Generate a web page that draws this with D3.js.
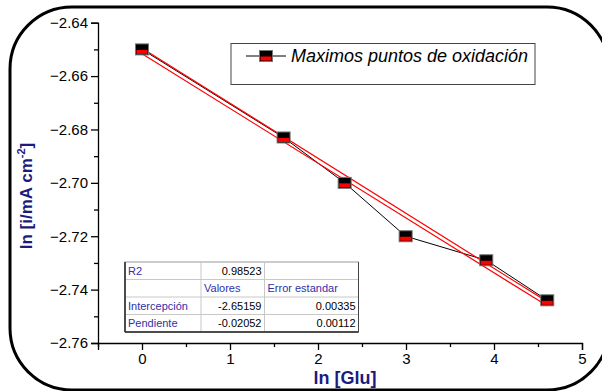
<!DOCTYPE html>
<html><head><meta charset="utf-8">
<script src="https://cdn.jsdelivr.net/npm/d3@7"></script>
<style>body{margin:0;background:#fff}svg{display:block}text{font-family:"Liberation Sans",Arial,sans-serif}</style>
</head><body><svg id="c" width="602" height="391"></svg>
<script>
const xVals = [0, 1.609, 2.303, 2.996, 3.912, 4.605];
const yVals = [-2.650, -2.683, -2.700, -2.720, -2.729, -2.744];
const xTicks = [0, 1, 2, 3, 4, 5];
const yTicks = [-2.76, -2.74, -2.72, -2.70, -2.68, -2.66, -2.64];
const fitIntercept = -2.65159, fitSlope = -0.02052;
const secondLine = [[0, -2.6496], [4.605, -2.7445]];
const legendLabel = "Maximos puntos de oxidación";
const tableRows = [
  ["R2", "0.98523", ""],
  ["", "Valores", "Error estandar"],
  ["Intercepción", "-2.65159", "0.00335"],
  ["Pendiente", "-0.02052", "0.00112"]
];

const svg = d3.select("#c");
const x = d3.scaleLinear().domain([-0.5, 5]).range([98, 582]);
const y = d3.scaleLinear().domain([-2.76, -2.64]).range([343, 22.7]);
const navy = "#1b1b7e", tblBlue = "#3030a8";

// frame
svg.append("rect").attr("x", 10).attr("y", 7).attr("width", 599).attr("height", 383)
  .attr("rx", 62).attr("ry", 62).attr("fill", "none").attr("stroke", "#000").attr("stroke-width", 3);

// axes
const yAxis = svg.append("g").attr("transform", "translate(98,0)")
  .call(d3.axisLeft(y).tickValues(yTicks).tickFormat(d3.format(".2f")).tickSizeOuter(0).tickSize(7));
const yMinor = svg.append("g").attr("transform", "translate(98,0)")
  .call(d3.axisLeft(y).tickValues(d3.range(-2.75, -2.64, 0.02)).tickFormat("").tickSizeOuter(0).tickSize(4));
yMinor.select(".domain").remove();
const xAxis = svg.append("g").attr("transform", "translate(0,343)")
  .call(d3.axisBottom(x).tickValues(xTicks).tickFormat(d3.format("d")).tickSizeOuter(0).tickSize(7));
const xMinor = svg.append("g").attr("transform", "translate(0,343)")
  .call(d3.axisBottom(x).tickValues([-0.5, 0.5, 1.5, 2.5, 3.5, 4.5]).tickFormat("").tickSizeOuter(0).tickSize(4));
xMinor.select(".domain").remove();
svg.selectAll(".domain, .tick line").attr("stroke", "#000").attr("stroke-width", 1.3);
yAxis.selectAll("text").attr("font-size", 15).attr("fill", "#000").attr("x", -10)
  .attr("font-family", "Liberation Sans, Arial, sans-serif");
xAxis.selectAll("text").attr("font-size", 15).attr("fill", "#000").attr("y", 10)
  .attr("font-family", "Liberation Sans, Arial, sans-serif");

// titles
svg.append("text").attr("x", 345).attr("y", 384).attr("text-anchor", "middle")
  .attr("font-size", 18).attr("font-weight", "bold").attr("fill", navy).text("ln [Glu]");
const yt = svg.append("text").attr("transform", "translate(32,196) rotate(-90)").attr("text-anchor", "middle")
  .attr("font-size", 17).attr("font-weight", "bold").attr("fill", navy);
yt.append("tspan").text("ln [i/mA cm");
yt.append("tspan").attr("dy", -7).attr("font-size", 11).text("-2");
yt.append("tspan").attr("dy", 7).text("]");

// data line
const pts = xVals.map((v, i) => [v, yVals[i]]);
svg.append("path").datum(pts).attr("fill", "none").attr("stroke", "#000").attr("stroke-width", 1)
  .attr("d", d3.line().x(d => x(d[0])).y(d => y(d[1])));
// fit lines
const fitPts = [[xVals[0], fitIntercept + fitSlope * xVals[0]], [xVals[5], fitIntercept + fitSlope * xVals[5]]];
[fitPts, secondLine].forEach(l => {
  svg.append("path").datum(l).attr("fill", "none").attr("stroke", "#ff0000").attr("stroke-width", 1.2)
    .attr("d", d3.line().x(d => x(d[0])).y(d => y(d[1])));
});

function marker(g, cx, cy) {
  g.append("rect").attr("x", cx - 6.5).attr("y", cy - 5.5).attr("width", 13).attr("height", 11)
    .attr("fill", "#000").attr("stroke", "#777").attr("stroke-width", 1);
  g.append("rect").attr("x", cx - 5.5).attr("y", cy + 0.5).attr("width", 11).attr("height", 4)
    .attr("fill", "#ff0000");
}
pts.forEach(p => marker(svg, x(p[0]), y(p[1])));

// legend
svg.append("rect").attr("x", 231).attr("y", 43.5).attr("width", 304).attr("height", 41)
  .attr("fill", "#fff").attr("stroke", "#444").attr("stroke-width", 1);
svg.append("line").attr("x1", 246).attr("x2", 286).attr("y1", 56).attr("y2", 56).attr("stroke", "#000");
marker(svg, 266, 56);
svg.append("text").attr("x", 291).attr("y", 62).attr("font-size", 18).attr("font-style", "italic")
  .attr("fill", "#000").text(legendLabel);

// table
const tx = 125, ty = 262, colW = [76, 63.5, 94], rowH = 17.5;
const colX = [tx, tx + colW[0], tx + colW[0] + colW[1], tx + colW[0] + colW[1] + colW[2]];
const tb = svg.append("g");
tb.append("rect").attr("x", tx).attr("y", ty).attr("width", colX[3] - tx).attr("height", rowH * 4)
  .attr("fill", "#fff").attr("stroke", "#999");
for (let r = 1; r < 4; r++) tb.append("line").attr("x1", tx).attr("x2", colX[3])
  .attr("y1", ty + r * rowH).attr("y2", ty + r * rowH).attr("stroke", "#c8c8c8");
for (let c = 1; c < 3; c++) tb.append("line").attr("x1", colX[c]).attr("x2", colX[c])
  .attr("y1", ty).attr("y2", ty + rowH * 4).attr("stroke", "#c8c8c8");
tb.append("line").attr("x1", tx).attr("x2", tx).attr("y1", ty).attr("y2", ty + rowH * 4).attr("stroke", "#222").attr("stroke-width", 1.5);
tb.append("line").attr("x1", tx).attr("x2", colX[3]).attr("y1", ty + rowH * 4).attr("y2", ty + rowH * 4).attr("stroke", "#222").attr("stroke-width", 1.5);
tb.append("line").attr("x1", colX[3]).attr("x2", colX[3]).attr("y1", ty).attr("y2", ty + rowH * 4).attr("stroke", "#444").attr("stroke-width", 1);
tableRows.forEach((row, r) => {
  row.forEach((cell, c) => {
    if (!cell) return;
    const isNum = /^-?\d/.test(cell);
    tb.append("text")
      .attr("x", isNum ? colX[c + 1] - 3 : colX[c] + 3)
      .attr("y", ty + r * rowH + 12.5)
      .attr("text-anchor", isNum ? "end" : "start")
      .attr("font-size", 11)
      .attr("fill", isNum ? "#000" : tblBlue)
      .text(cell);
  });
});
</script></body></html>
